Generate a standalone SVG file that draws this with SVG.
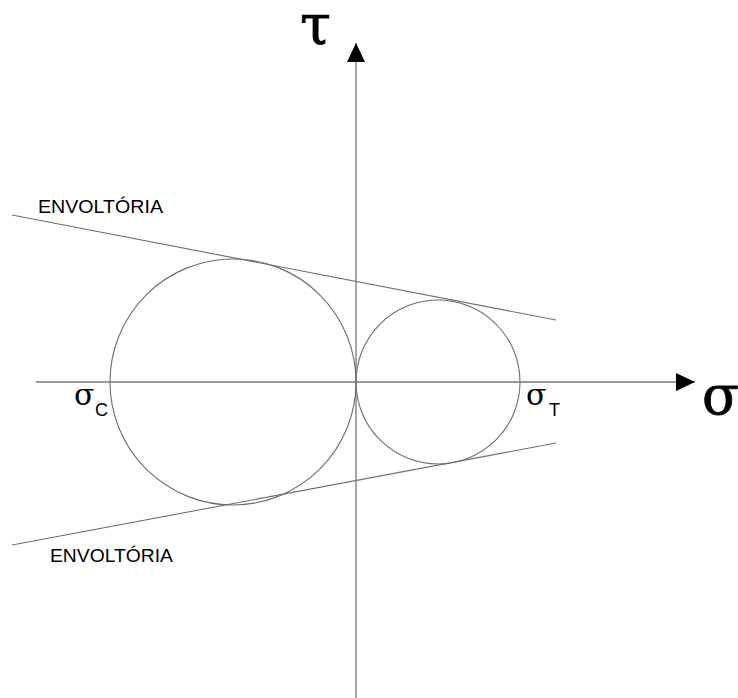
<svg xmlns="http://www.w3.org/2000/svg" width="738" height="698" viewBox="0 0 738 698">
<style>
.ax{stroke:#777;stroke-width:1.3;fill:none}
.ln{stroke:#6e6e6e;stroke-width:1.1;fill:none}
.circ{stroke:#6e6e6e;stroke-width:1.1;fill:none}
.gr{font-family:"DejaVu Serif","Liberation Serif",serif;fill:#000}
.big{stroke:#000;stroke-width:0.8}
.lbl{font-family:"Liberation Sans",Arial,sans-serif;fill:#000}
</style>
<defs>
<marker id="ah" markerWidth="20" markerHeight="18" refX="19" refY="9" orient="auto" markerUnits="userSpaceOnUse">
<path d="M0,0 L19,9 L0,18 Z" fill="#000"/>
</marker>
</defs>
<rect width="738" height="698" fill="#fff"/>
<g id="connectors">
<line class="ax" x1="36" y1="382" x2="695" y2="382" marker-end="url(#ah)"/>
<line class="ax" x1="356" y1="698" x2="356" y2="43" marker-end="url(#ah)"/>
<line class="ln" x1="12" y1="215" x2="556" y2="320"/>
<line class="ln" x1="12" y1="545" x2="556" y2="443"/>
</g>
<g id="circle-compression"><circle class="circ" cx="233" cy="382" r="123"/></g>
<g id="circle-tension"><circle class="circ" cx="438" cy="382" r="82"/></g>
<g id="label-tau"><text class="gr big" x="300" y="44" font-size="56">τ</text></g>
<g id="label-sigma"><text class="gr big" x="702" y="414" font-size="54">σ</text></g>
<g id="label-sigmaC"><text class="gr" x="74" y="405" font-size="30">σ</text><text class="lbl" x="95" y="416" font-size="18">C</text></g>
<g id="label-sigmaT"><text class="gr" x="526" y="405" font-size="30">σ</text><text class="lbl" x="549" y="416" font-size="18">T</text></g>
<g id="label-env-top"><text class="lbl" x="38" y="213" font-size="18" textLength="125" lengthAdjust="spacingAndGlyphs">ENVOLTÓRIA</text></g>
<g id="label-env-bottom"><text class="lbl" x="50" y="562" font-size="18" textLength="123" lengthAdjust="spacingAndGlyphs">ENVOLTÓRIA</text></g>
</svg>
